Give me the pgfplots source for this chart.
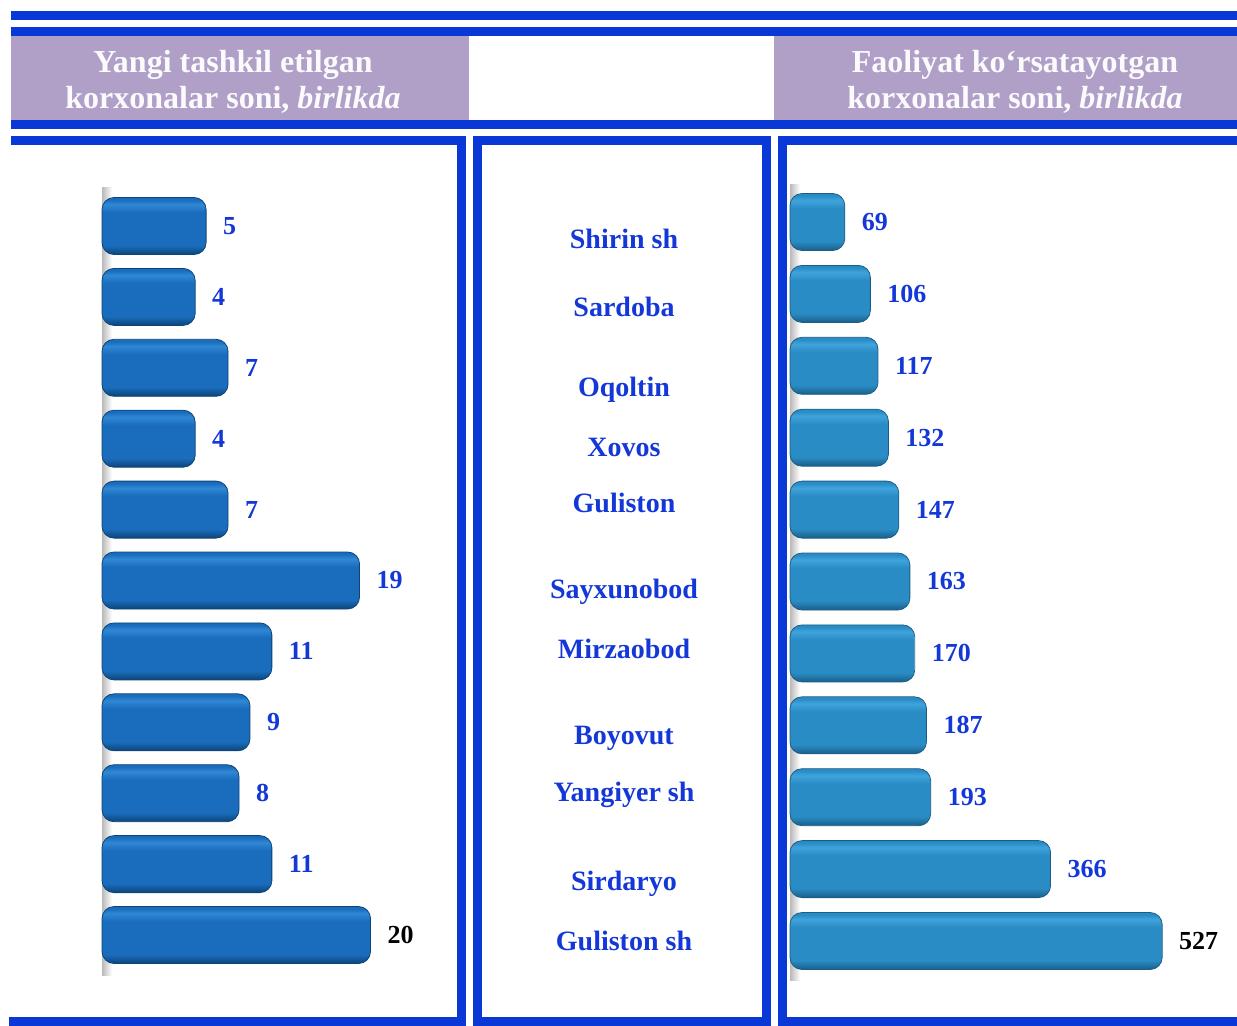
\documentclass[border=0pt]{standalone}
\usepackage{pgfplots}
\pgfplotsset{compat=1.18}
\usepackage{pgfplotstable}
\usepackage{fontspec}
\setmainfont{Liberation Serif}

\definecolor{fblue}{HTML}{0A38D6}
\definecolor{hpurple}{HTML}{B0A0C8}
\definecolor{lblue}{HTML}{1438D8}
\definecolor{lbar}{HTML}{1A6DBD}
\definecolor{lbartop}{HTML}{3088D4}
\definecolor{lbardark}{HTML}{0C4478}
\definecolor{rbar}{HTML}{2A8CC4}
\definecolor{rbartop}{HTML}{40A4DC}
\definecolor{rbardark}{HTML}{1A5E88}

\pgfdeclareverticalshading{lbarsh}{100bp}{color(0bp)=(lbardark); color(25bp)=(lbardark);
  color(33bp)=(lbar); color(62bp)=(lbar); color(69bp)=(lbartop); color(73bp)=(lbar); color(100bp)=(lbar)}
\pgfdeclareverticalshading{rbarsh}{100bp}{color(0bp)=(rbardark); color(25bp)=(rbardark);
  color(33bp)=(rbar); color(62bp)=(rbar); color(69bp)=(rbartop); color(73bp)=(rbar); color(100bp)=(rbar)}

% yangi tashkil etilgan korxonalar
\pgfplotstableread{
y v
1 5
2 4
3 7
4 4
5 7
6 19
7 11
8 9
9 8
10 11
}\tabnew
\pgfplotstableread{
y v
11 20
}\tabnewlast

% faoliyat ko'rsatayotgan korxonalar
\pgfplotstableread{
y v
1 69
2 106
3 117
4 132
5 147
6 163
7 170
8 187
9 193
10 366
}\tabact
\pgfplotstableread{
y v
11 527
}\tabactlast

\pgfplotsset{barax/.style={
    hide axis, clip=false,
    xbar, bar width=28.5pt, bar shift=0pt,
    y dir=reverse, ymin=0, ymax=12,
    anchor=north west,
    nodes near coords={\pgfmathprintnumber[assume math mode=true]{\pgfplotspointmeta}},
    point meta=explicit,
    nodes near coords style={font=\bfseries\fontsize{13}{15}\selectfont,
        anchor=west, xshift=5pt},
}}

\begin{document}
\begin{tikzpicture}[x=0.5pt,y=-0.5pt]
\path[use as bounding box] (0,0) rectangle (1237,1026);

% frame
\fill[fblue] (11,11) rectangle (1237,20);
\fill[fblue] (11,27) rectangle (1237,36);
\fill[hpurple] (11,36) rectangle (469,120);
\fill[hpurple] (774,36) rectangle (1237,120);
\fill[fblue] (11,120) rectangle (1237,129);
\fill[fblue] (11,136) rectangle (466,145);
\fill[fblue] (457,136) rectangle (466,1026);
\fill[fblue] (9,1017) rectangle (466,1026);
\fill[fblue] (473,136) rectangle (771,145);
\fill[fblue] (473,136) rectangle (482,1026);
\fill[fblue] (762,136) rectangle (771,1026);
\fill[fblue] (473,1017) rectangle (771,1026);
\fill[fblue] (778,136) rectangle (1237,145);
\fill[fblue] (778,136) rectangle (787,1026);
\fill[fblue] (778,1017) rectangle (1237,1026);

% headers
\node[text=white!95!hpurple, align=center, font=\bfseries\fontsize{16}{18}\selectfont]
    at (233,82) {Yangi tashkil etilgan\\korxonalar soni, \textit{birlikda}};
\node[text=white!95!hpurple, align=center, font=\bfseries\fontsize{16}{18}\selectfont]
    at (1015,82) {Faoliyat ko‘rsatayotgan\\korxonalar soni, \textit{birlikda}};

% region names
\begin{scope}[every node/.style={text=lblue, font=\bfseries\fontsize{14}{16}\selectfont}]
\node at (624,239) {Shirin sh};
\node at (624,307) {Sardoba};
\node at (624,390) {Oqoltin};
\node at (624,447) {Xovos};
\node at (624,503) {Guliston};
\node at (624,592) {Sayxunobod};
\node at (624,649) {Mirzaobod};
\node at (624,738) {Boyovut};
\node at (624,795) {Yangiyer sh};
\node at (624,884) {Sirdaryo};
\node at (624,941) {Guliston sh};
\end{scope}

% back walls
\shade[left color=gray!55, right color=white] (102,188) rectangle (112,975);
\shade[left color=gray!55, right color=white] (790,185) rectangle (800,980);

\coordinate (L0) at (102,155.1);
\coordinate (R0) at (790,150.1);

\begin{axis}[barax, at={(L0)}, x=5.48pt, y=35.45pt, xmin=0, xmax=30]
\pgfplotsinvokeforeach{1,...,10}{
\addplot[rounded corners=6pt, draw=lbardark, shading=lbarsh,
    restrict y to domain=#1:#1, nodes near coords style={text=lblue}]
    table[x expr=\thisrow{v}+4.5, y=y, meta=v] {\tabnew};
}
\addplot[rounded corners=6pt, draw=lbardark, shading=lbarsh,
    nodes near coords style={text=black}]
    table[x expr=\thisrow{v}+4.5, y=y, meta=v] {\tabnewlast};
\end{axis}

\begin{axis}[barax, at={(R0)}, x=0.3465pt, y=35.95pt, xmin=0, xmax=600]
\pgfplotsinvokeforeach{1,...,10}{
\addplot[rounded corners=6pt, draw=rbardark, shading=rbarsh,
    restrict y to domain=#1:#1, nodes near coords style={text=lblue}]
    table[x expr=\thisrow{v}+10, y=y, meta=v] {\tabact};
}
\addplot[rounded corners=6pt, draw=rbardark, shading=rbarsh,
    nodes near coords style={text=black}]
    table[x expr=\thisrow{v}+10, y=y, meta=v] {\tabactlast};
\end{axis}
\end{tikzpicture}
\end{document}
